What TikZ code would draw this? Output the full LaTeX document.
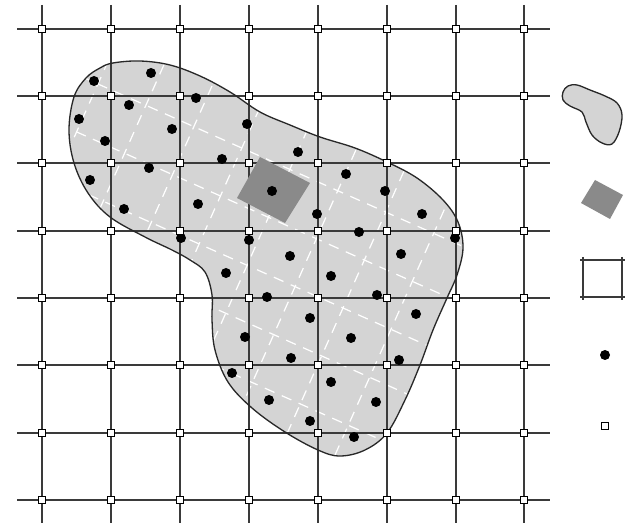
\documentclass[tikz,border=0pt]{standalone}
\usepackage{xcolor}
\definecolor{GridInk}{RGB}{58,58,58}
\definecolor{BlobGray}{RGB}{212,212,212}
\definecolor{PlotGray}{RGB}{138,138,138}
\definecolor{Outline}{RGB}{40,40,40}
\tikzset{
  gridline/.style={draw=GridInk,line width=0.75pt},
  blobfill/.style={fill=BlobGray},
  blobline/.style={draw=Outline,line width=0.75pt},
  cellline/.style={draw=white,line width=0.7pt,dash pattern=on 6pt off 4.5pt},
  plotbox/.style={fill=PlotGray},
  sample/.style={circle,fill=black,inner sep=0pt,minimum size=0.2cm},
  gnode/.style={rectangle,draw=black,fill=white,line width=0.6pt,inner sep=0pt,minimum size=0.125cm}
}
\def\blobpath{plot[smooth cycle,tension=0.6] coordinates {(113,63) (140,61) (170,65) (200,76) (230,92) (260,112) (290,125) (320,137) (355,148) (387,162) (417,178) (443,200) (458,222) (463,248) (457,275) (447,298) (433,330) (420,365) (405,400) (387,433) (365,450) (340,456) (318,450) (285,432) (252,408) (228,382) (215,350) (212,320) (212,295) (205,272) (190,260) (172,250) (145,237) (110,217) (88,193) (74,163) (69,130) (74,97) (86,78) (100,68)}}
\def\keyblob{plot[smooth cycle,tension=0.6] coordinates {(563,92) (568,86) (577,85) (590,90) (605,96) (617,103) (622,115) (619,132) (612,144) (602,143) (592,135) (586,122) (582,112) (570,106) (563,100)}}
\begin{document}
\begin{tikzpicture}[x=0.02cm,y=-0.02cm]
\useasboundingbox (0,0) rectangle (626,523);
\fill[blobfill] \blobpath;
\begin{scope}
\clip \blobpath;
\begin{scope}[shift={(343,308)},rotate=-24]
\foreach \k in {-9,...,9} {\draw[cellline] (-500,\k*52.5) -- (500,\k*52.5); \draw[cellline] (\k*52.5,-500) -- (\k*52.5,500);}
\end{scope}
\end{scope}
\foreach \y in {29,96,163,231,298,365,433,500} \draw[gridline] (17,\y) -- (550,\y);
\foreach \x in {42,111,180,249,318,387,456,524} \draw[gridline] (\x,5) -- (\x,523);
\fill[plotbox] (260,157) -- (310,183) -- (285,223) -- (237,198) -- cycle;
\draw[blobline] \blobpath;
\foreach \p [count=\k] in {(94,81),(151,73),(129,105),(196,98),(79,119),(172,129),(247,124),(105,141),(222,159),(149,168),(298,152),(90,180),(272,191),(124,209),(198,204),(317,214),(181,238),(249,240),(290,256),(346,174),(385,191),(422,214),(359,232),(455,238),(401,254),(331,276),(377,295),(226,273),(267,297),(310,318),(416,314),(351,338),(245,337),(291,358),(399,360),(331,382),(232,373),(376,402),(269,400),(310,421),(354,437)}
  \node[sample] (s\k) at \p {};
\foreach \x [count=\i] in {42,111,180,249,318,387,456,524}
  \foreach \y [count=\j] in {29,96,163,231,298,365,433,500}
    \node[gnode] (n\i\j) at (\x,\y) {};
\fill[blobfill] \keyblob;
\draw[blobline] \keyblob;
\fill[plotbox] (595,180) -- (623,195) -- (610,219) -- (581,203) -- cycle;
\draw[gridline] (580,260) -- (625,260); \draw[gridline] (580,297) -- (625,297);
\draw[gridline] (583,257) -- (583,300); \draw[gridline] (622,257) -- (622,300);
\node[sample] (keydot) at (605,355) {};
\node[gnode] (keynode) at (605,426) {};
\end{tikzpicture}
\end{document}
